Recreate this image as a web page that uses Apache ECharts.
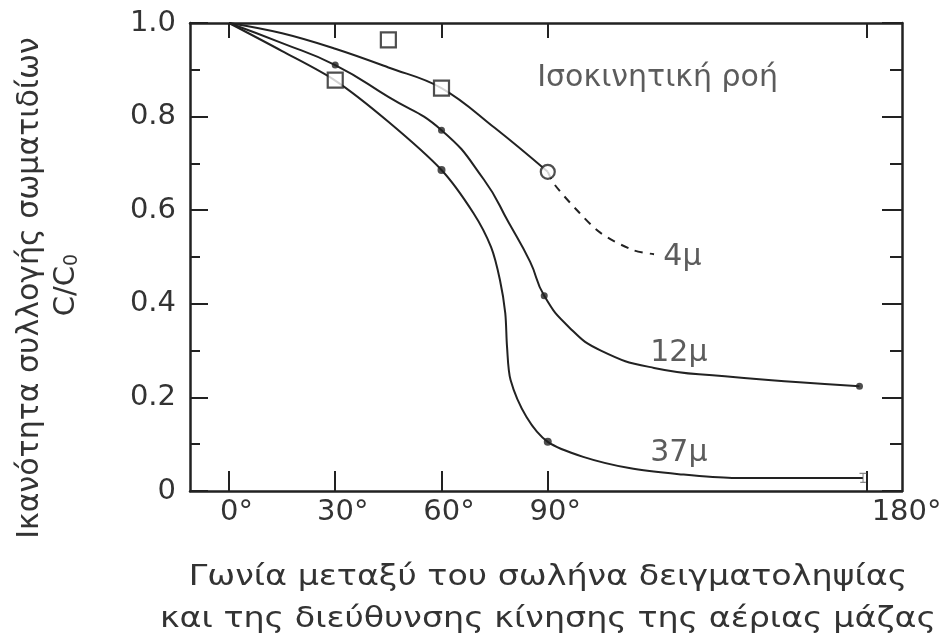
<!DOCTYPE html>
<html>
<head>
<meta charset="utf-8">
<script src="https://cdn.jsdelivr.net/npm/echarts@6/dist/echarts.min.js"></script>
<style>
html,body{margin:0;padding:0;background:#fff;}
#chart{width:949px;height:637px;}
</style>
</head>
<body>
<div id="chart"></div>
<script>
// ---- data ----
const xTicks = [0, 30, 60, 90, 180];
const yTickLabels = ['0', '0.2', '0.4', '0.6', '0.8', '1.0'];

const angle4 = [0, 15, 30, 45, 60, 75, 90];
const val4 = [1.0, 0.978, 0.945, 0.905, 0.861, 0.776, 0.682];
const angle4dash = [90, 92, 99, 105, 114, 120];
const val4dash = [0.682, 0.654, 0.594, 0.551, 0.515, 0.506];

const angle12 = [0, 15, 30, 45, 60, 72, 79, 85, 89, 96, 105, 120, 140, 160, 178];
const val12 = [1.0, 0.957, 0.91, 0.842, 0.771, 0.665, 0.573, 0.49, 0.417, 0.35, 0.30, 0.263, 0.245, 0.233, 0.224];

const angle37 = [0, 15, 30, 45, 60, 69, 74, 76.5, 78, 78.5, 79.5, 84, 90, 100, 113, 127, 142, 179];
const val37 = [1.0, 0.94, 0.877, 0.789, 0.686, 0.594, 0.521, 0.451, 0.38, 0.308, 0.237, 0.158, 0.105, 0.073, 0.049, 0.036, 0.028, 0.028];

const squares4 = [[30, 0.878], [45, 0.964], [60, 0.861]];
const circles4 = [[90, 0.682]];
const dots12 = [[30, 0.91], [60, 0.771], [89, 0.417], [178, 0.224]];
const dots37 = [[60, 0.686], [90, 0.105]];
const end37 = [[179, 0.028]];

const curveLabels = [
  {text: '4μ', x: 128, y: 0.5},
  {text: '12μ', x: 127, y: 0.295},
  {text: '37μ', x: 127, y: 0.081},
  {text: 'Ισοκινητική ροή', x: 121, y: 0.882}
];

const yTitle = 'Ικανότητα συλλογής σωματιδίων';
const xTitle = 'Γωνία μεταξύ του σωλήνα δειγματοληψίας\nκαι της διεύθυνσης κίνησης της αέριας μάζας';

// ---- chart ----
const FONT = 'DejaVu Sans';
const INK = '#222';
const TXT = '#333';
const zip = (a, b) => a.map((v, i) => [v, b[i]]);

const chart = echarts.init(document.getElementById('chart'), null, {renderer: 'canvas'});

const lineStyle = {color: INK, width: 2};

const option = {
  backgroundColor: '#fff',
  animation: false,
  textStyle: {fontFamily: FONT},
  grid: {left: 190, right: 47, top: 23, bottom: 146, containLabel: false, outerBoundsMode: 'none'},
  xAxis: [
    {
      type: 'value', min: -11, max: 190, position: 'bottom',
      axisLine: {show: true, onZero: false, lineStyle: {color: INK, width: 2.5}},
      axisTick: {show: true, inside: true, length: 20, customValues: xTicks, lineStyle: {color: INK, width: 2}},
      axisLabel: {
        show: true, customValues: xTicks, margin: 7, fontSize: 29, color: TXT, fontFamily: FONT,
        formatter: v => v === 180 ? '{r|180°}' : '{d|' + v + '°}',
        rich: {
          d: {fontSize: 29, color: TXT, fontFamily: FONT, padding: [0, 0, 0, 15]},
          r: {fontSize: 29, color: TXT, fontFamily: FONT, padding: [0, 0, 0, 80]}
        }
      },
      splitLine: {show: false}
    },
    {
      type: 'value', min: -11, max: 190, position: 'top',
      axisLine: {show: true, onZero: false, lineStyle: {color: INK, width: 2.5}},
      axisTick: {show: true, inside: true, length: 15, customValues: xTicks, lineStyle: {color: INK, width: 2}},
      axisLabel: {show: false},
      splitLine: {show: false}
    }
  ],
  yAxis: [
    {
      type: 'value', min: 0, max: 1, interval: 0.2, position: 'left',
      axisLine: {show: true, onZero: false, lineStyle: {color: INK, width: 2.5}},
      axisTick: {show: true, inside: true, length: 18, lineStyle: {color: INK, width: 2}},
      minorTick: {show: true, splitNumber: 2, length: 10, lineStyle: {color: INK, width: 2}},
      axisLabel: {
        show: true, margin: 14, fontSize: 29, color: TXT, fontFamily: FONT,
        formatter: v => yTickLabels[Math.round(v / 0.2)]
      },
      splitLine: {show: false}, minorSplitLine: {show: false}
    },
    {
      type: 'value', min: 0, max: 1, interval: 0.2, position: 'right',
      axisLine: {show: true, onZero: false, lineStyle: {color: INK, width: 2.5}},
      axisTick: {show: true, inside: true, length: 20, lineStyle: {color: INK, width: 2}},
      minorTick: {show: true, splitNumber: 2, length: 12, lineStyle: {color: INK, width: 2}},
      axisLabel: {show: false},
      splitLine: {show: false}, minorSplitLine: {show: false}
    }
  ],
  graphic: [
    {
      type: 'text', x: 30, y: 288, rotation: Math.PI / 2,
      style: {text: yTitle, fontSize: 30, fontFamily: FONT, fill: TXT, align: 'center', verticalAlign: 'middle'}
    },
    {
      type: 'text', x: 66, y: 285, rotation: Math.PI / 2,
      style: {
        text: '{a|C/C}{b|0}', align: 'center', verticalAlign: 'middle',
        rich: {
          a: {fontSize: 29, fontFamily: FONT, fill: TXT, color: TXT},
          b: {fontSize: 19, fontFamily: FONT, fill: TXT, color: TXT, padding: [12, 0, 0, 0]}
        }
      }
    },
    {
      type: 'text', x: 548, y: 599, scaleX: 1.19,
      style: {text: xTitle, fontSize: 28, lineHeight: 42, fontFamily: FONT, fill: TXT, align: 'center', verticalAlign: 'middle'}
    }
  ],
  series: [
    {type: 'line', name: '4μ', data: zip(angle4, val4), smooth: 0.4, symbol: 'none', lineStyle: lineStyle, z: 2},
    {type: 'line', name: '4μ dashed', data: zip(angle4dash, val4dash), smooth: 0.3, symbol: 'none',
      lineStyle: {color: INK, width: 2, type: [8, 7]}, z: 2},
    {type: 'line', name: '12μ', data: zip(angle12, val12), smooth: 0.5, symbol: 'none', lineStyle: lineStyle, z: 2},
    {type: 'line', name: '37μ', data: zip(angle37, val37), smooth: 0.3, symbol: 'none', lineStyle: lineStyle, z: 2},
    {type: 'scatter', data: squares4, symbol: 'rect', symbolSize: 15,
      itemStyle: {color: '#fff', borderColor: INK, borderWidth: 2.2}, z: 5},
    {type: 'scatter', data: circles4, symbol: 'circle', symbolSize: 14,
      itemStyle: {color: '#fff', borderColor: INK, borderWidth: 2.2}, z: 5},
    {type: 'scatter', data: dots12, symbol: 'circle', symbolSize: 7,
      itemStyle: {color: INK}, z: 5},
    {type: 'scatter', data: dots37, symbol: 'circle', symbolSize: 8,
      itemStyle: {color: INK}, z: 5},
    {type: 'scatter', data: end37, symbol: 'path://M0,0 L10,0 M5,0 L5,12 M1,12 L9,12', symbolSize: [7, 9],
      itemStyle: {color: 'none', borderColor: '#666', borderWidth: 1.2}, z: 5},
    {
      type: 'scatter', symbolSize: 0, z: 6,
      data: curveLabels.map(d => ({value: [d.x, d.y], name: d.text})),
      label: {show: true, position: 'inside', formatter: p => p.name, fontSize: 30, color: TXT, fontFamily: FONT}
    }
  ]
};
chart.setOption(option);
</script>
</body>
</html>
